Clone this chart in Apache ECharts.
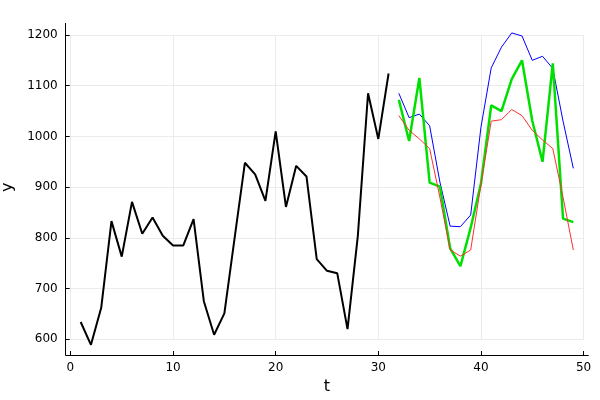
<!DOCTYPE html>
<html>
<head>
<meta charset="utf-8">
<script src="https://cdn.jsdelivr.net/npm/echarts@6/dist/echarts.min.js"></script>
<style>
html,body{margin:0;padding:0;background:#fff;}
#chart{width:600px;height:400px;}
</style>
</head>
<body>
<div id="chart"></div>
<script>
// Observed series, t = 1..31
const trainStart = 1;
const trainValues = [634, 589, 662, 833, 763, 871, 808, 840, 804, 785, 785, 837, 675, 609, 651, 800,
  948, 925, 873, 1010, 861, 942, 921, 758, 735, 730, 620, 803, 1085, 995, 1124];
// Forecast series, t = 32..49
const forecastStart = 32;
const blueValues = [1085, 1037, 1044, 1021, 910, 823, 822, 845, 1018, 1135, 1176, 1204, 1198, 1150, 1158, 1134, 1030, 937];
const greenValues = [1072, 991, 1115, 909, 901, 779, 744, 820, 907, 1061, 1050, 1113, 1150, 1031, 950, 1144, 838, 831];
const redValues = [1041, 1012, 995, 976, 880, 776, 764, 776, 905, 1030, 1033, 1053, 1041, 1012, 993, 976, 880, 776];
const xTicks = [0, 10, 20, 30, 40, 50];
const yTicks = [600, 700, 800, 900, 1000, 1100, 1200];

function pairs(start, vals) { return vals.map((v, i) => [start + i, v]); }

const FONT = 'DejaVu Sans';
const chart = echarts.init(document.getElementById('chart'), null, {renderer: 'canvas'});

const line = (data, color, width) => ({
  type: 'line', xAxisIndex: 0, yAxisIndex: 0, data: data, showSymbol: false, symbol: 'none',
  lineStyle: {color: color, width: width}, itemStyle: {color: color}, animation: false, silent: true
});

chart.setOption({
  animation: false,
  backgroundColor: '#ffffff',
  grid: [
    {left: 65.7, right: 11.7, top: 23.3, bottom: 45, containLabel: false, outerBoundsMode: 'none'},
    {left: 70.4, right: 16.4, top: 35, bottom: 60.7, containLabel: false, outerBoundsMode: 'none'}
  ],
  xAxis: [
    {type: 'value', gridIndex: 0, min: -0.46, max: 50.46,
      axisLine: {show: true, onZero: false, lineStyle: {color: '#000', width: 1}},
      axisTick: {show: false}, axisLabel: {show: false}, splitLine: {show: false}},
    {type: 'value', gridIndex: 1, min: xTicks[0], max: xTicks[xTicks.length - 1], interval: 10, offset: 15.7,
      axisLine: {show: false, onZero: false},
      axisTick: {show: true, inside: true, length: 4, lineStyle: {color: '#000', width: 1}},
      axisLabel: {show: true, margin: 7, color: '#000', fontFamily: FONT, fontSize: 12,
        formatter: v => String(v)},
      splitLine: {show: true, lineStyle: {color: '#ebebeb', width: 1}},
      name: 't', nameLocation: 'middle', nameGap: 22,
      nameTextStyle: {color: '#000', fontFamily: FONT, fontSize: 16}}
  ],
  yAxis: [
    {type: 'value', gridIndex: 0, min: 569, max: 1223,
      axisLine: {show: true, onZero: false, lineStyle: {color: '#000', width: 1}},
      axisTick: {show: false}, axisLabel: {show: false}, splitLine: {show: false}},
    {type: 'value', gridIndex: 1, min: yTicks[0], max: yTicks[yTicks.length - 1], interval: 100, offset: 4.7,
      axisLine: {show: false, onZero: false},
      axisTick: {show: true, inside: true, length: 4, lineStyle: {color: '#000', width: 1}},
      axisLabel: {show: true, margin: 8, color: '#000', fontFamily: FONT, fontSize: 12,
        formatter: v => String(v)},
      splitLine: {show: true, lineStyle: {color: '#ebebeb', width: 1}},
      name: 'y', nameLocation: 'middle', nameGap: 43,
      nameTextStyle: {color: '#000', fontFamily: FONT, fontSize: 16}}
  ],
  series: [
    line(pairs(trainStart, trainValues), '#000000', 2),
    line(pairs(forecastStart, blueValues), '#0000ff', 1),
    line(pairs(forecastStart, greenValues), '#00e000', 2.5),
    line(pairs(forecastStart, redValues), '#ff3030', 1)
  ]
});
</script>
</body>
</html>
